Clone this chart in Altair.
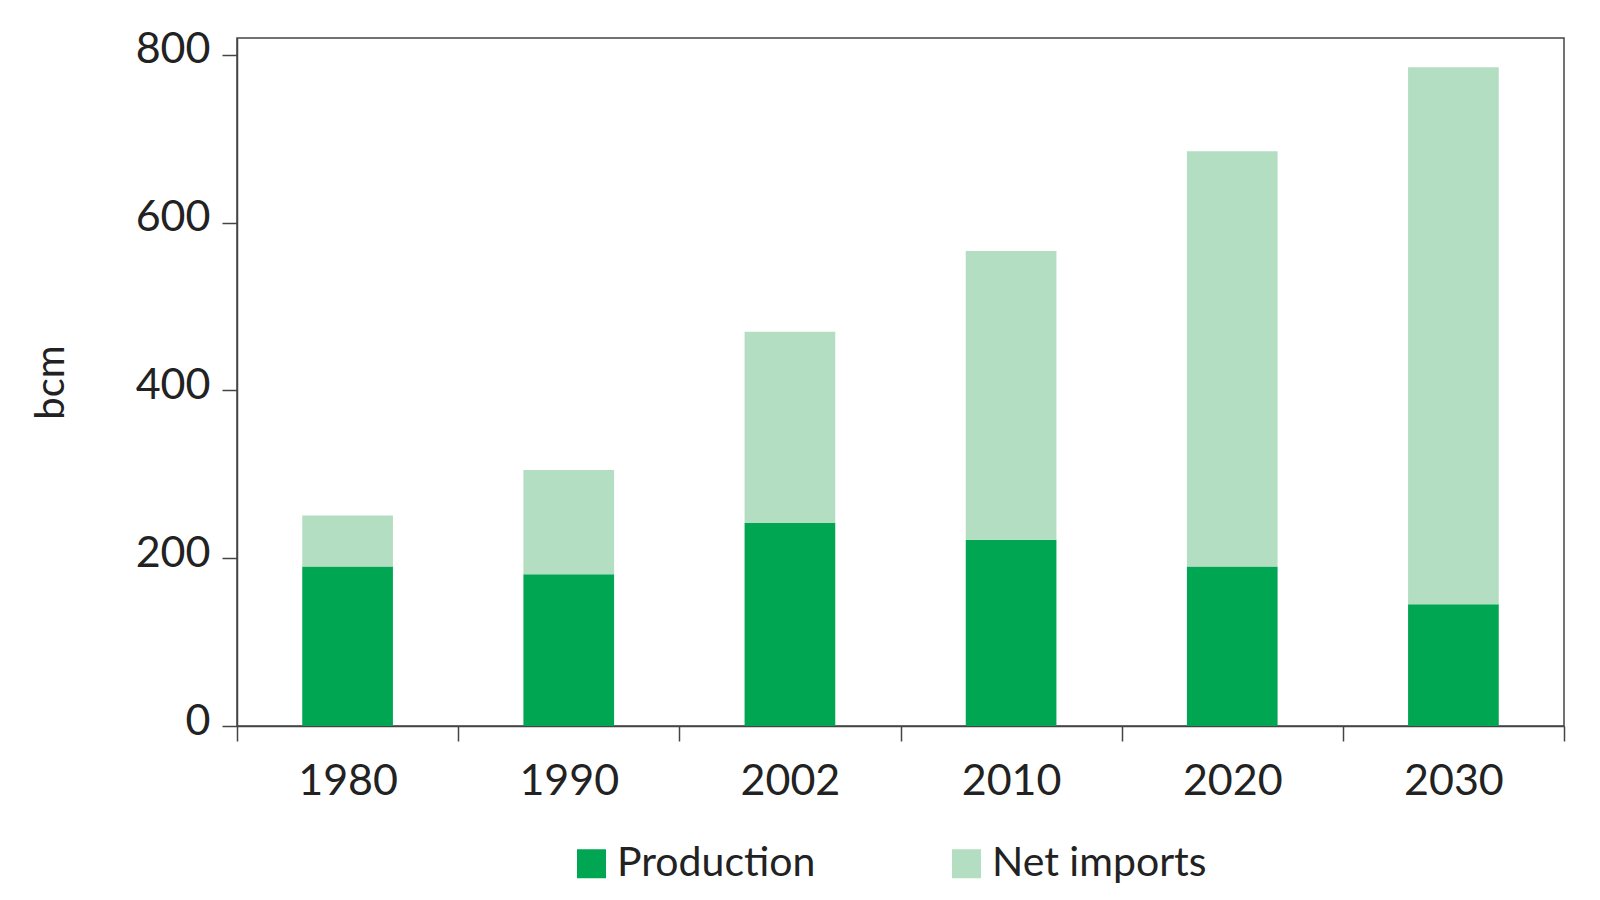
import altair as alt
import pandas as pd

years = ["1980", "1990", "2002", "2010", "2020", "2030"]
production = [190, 181, 242, 222, 190, 145]
net_imports = [61, 124, 228, 344, 495, 640]
series = ["Production", "Net imports"]
colors = ["#00A651", "#B3DEC1"]
y_ticks = [0, 200, 400, 600, 800]

rows = []
for i, yr in enumerate(years):
    rows.append({"year": yr, "series": series[0], "value": production[i], "order": 0})
    rows.append({"year": yr, "series": series[1], "value": net_imports[i], "order": 1})
df = pd.DataFrame(rows)

FONT = "Lato"
TXT = "#222222"
AX = "#444444"
W, H = 1327, 688

chart = alt.Chart(df).mark_bar(width=alt.RelativeBandSize(0.41)).encode(
    x=alt.X(
        "year:N",
        sort=years,
        scale=alt.Scale(paddingInner=0, paddingOuter=0),
        axis=alt.Axis(
            title=None, labelAngle=0, tickBand="extent", tickSize=15, labelPadding=19,
            labelFontSize=43, labelFont=FONT, labelColor=TXT,
            domainColor=AX, tickColor=AX, domainWidth=1.5, tickWidth=1.5,
        ),
    ),
    y=alt.Y(
        "value:Q",
        stack="zero",
        scale=alt.Scale(domain=[0, 820], nice=False),
        axis=alt.Axis(
            values=y_ticks, grid=False, tickSize=15, labelPadding=12,
            labelFontSize=43, labelFont=FONT, labelColor=TXT, labelOffset=-5,
            domainColor=AX, tickColor=AX, domainWidth=1.5, tickWidth=1.5,
            title="bcm", titleFont=FONT, titleFontSize=40, titleFontWeight="normal",
            titleColor=TXT, titleAngle=270, titleX=-174, titleY=H / 2,
            titleAlign="center", titleBaseline="alphabetic",
        ),
    ),
    color=alt.Color(
        "series:N",
        scale=alt.Scale(domain=series, range=colors),
        legend=alt.Legend(
            title=None, orient="none", legendX=334, legendY=805, direction="horizontal",
            symbolType="square", symbolSize=841, symbolStrokeWidth=0, symbolOpacity=1,
            labelFont=FONT, labelFontSize=41, labelColor=TXT, labelOffset=5,
            columnPadding=130, labelLimit=400,
        ),
    ),
    order=alt.Order("order:Q"),
).properties(
    width=W,
    height=H,
    padding={"left": 229, "top": 30, "right": 28, "bottom": 166},
    autosize=alt.AutoSizeParams(type="none"),
).configure(
    background="white"
).configure_view(
    stroke=AX, strokeWidth=1.5
)

chart.save("out.html", embed_options={"renderer": "svg", "actions": False})
